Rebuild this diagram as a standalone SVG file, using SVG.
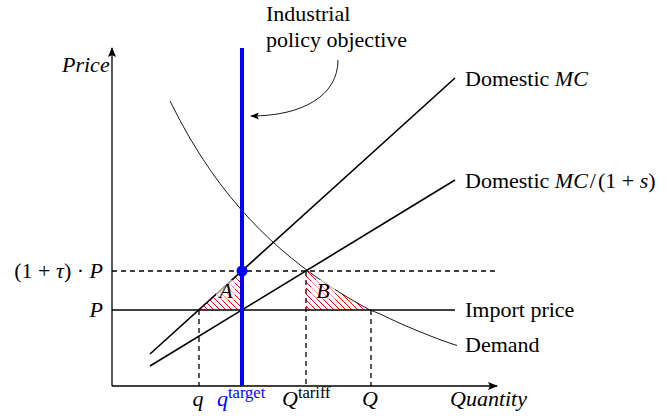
<svg xmlns="http://www.w3.org/2000/svg" width="668" height="419" viewBox="0 0 668 419">
<style>
text{font-family:"Liberation Serif","Times New Roman",serif;font-size:22px;fill:#000}
.it{font-style:italic}
.sup{font-size:16.5px}
.ax{stroke:#000;stroke-width:1.3;fill:none}
.ln{stroke:#000;stroke-width:1.6;fill:none}
.dash{stroke:#000;stroke-width:1.3;stroke-dasharray:5,4;fill:none}
.thin{stroke:#000;stroke-width:0.9;fill:none}
.fade{fill:#fff;opacity:0.6}
</style>
<defs>
<marker id="arr" viewBox="0 0 10 8" refX="9" refY="4" markerWidth="10" markerHeight="8" markerUnits="userSpaceOnUse" orient="auto">
<path d="M0,0 L10,4 L0,8 L2,4 Z" fill="#000"/>
</marker>
<marker id="arrs" viewBox="0 0 10 8" refX="9" refY="4" markerWidth="9" markerHeight="7" markerUnits="userSpaceOnUse" orient="auto">
<path d="M0,0 L10,4 L0,8 L2,4 Z" fill="#000"/>
</marker>
<pattern id="hatch" patternUnits="userSpaceOnUse" width="6" height="6">
<path d="M-1,-1 L7,7 M-1,5 L1,7 M5,-1 L7,1" stroke="#ff0000" stroke-width="1"/>
</pattern>
</defs>

<g id="areas">
<polygon id="areaA" points="199,310 242,310 242,271" fill="url(#hatch)"/>
<polygon id="areaB" points="306,270 310,272.5 320,279.6 330,286.4 340,292.7 350,298.8 360,304.5 370,310 306,310" fill="url(#hatch)"/>
</g>

<g id="connectors">
<line id="price-axis" class="ax" x1="112" y1="386" x2="112" y2="48" marker-end="url(#arr)"/>
<line id="quantity-axis" class="ax" x1="112" y1="386" x2="497" y2="386" marker-end="url(#arr)"/>
<line id="tariff-price" class="dash" x1="112" y1="271" x2="497" y2="271"/>
<line id="import-price" class="ax" x1="112" y1="310" x2="455" y2="310"/>
<line id="v-q" class="dash" x1="199" y1="310" x2="199" y2="386"/>
<line id="v-Qtariff" class="dash" x1="306" y1="271" x2="306" y2="386"/>
<line id="v-Q" class="dash" x1="371" y1="310" x2="371" y2="386"/>
<line id="domestic-mc" class="ln" x1="150" y1="354" x2="455" y2="78"/>
<line id="domestic-mc-s" class="ln" x1="150" y1="366" x2="455" y2="180"/>
<polyline id="demand" class="thin" points="170,101 180,120.5 190,138.4 200,154.7 210,169.7 220,183.6 230,196.4 240,208.3 250,219.4 260,229.7 270,239.4 280,248.4 290,256.9 300,264.9 310,272.5 320,279.6 330,286.4 340,292.7 350,298.8 360,304.5 370,310 380,313.9 390,318.7 400,323.3 410,327.6 420,331.8 430,335.8 440,339.6 450,343.2 457,345.5"/>
<path id="annotation-arrow" class="thin" d="M338,60 C338,96 302,116 251,116" marker-end="url(#arrs)"/>
</g>

<g id="labelA">
<rect class="fade" x="216" y="280" width="19" height="20"/>
<text class="it" x="226" y="298" text-anchor="middle">A</text>
</g>
<g id="labelB">
<rect class="fade" x="311" y="280" width="24" height="19"/>
<text class="it" x="323" y="298" text-anchor="middle">B</text>
</g>

<g id="target-line">
<line x1="242" y1="48" x2="242" y2="386" stroke="#0000ff" stroke-width="4"/>
<circle cx="242" cy="271" r="5.5" fill="#0000ff"/>
</g>

<g id="annotation">
<text x="266" y="21">Industrial</text>
<text x="266" y="47">policy objective</text>
</g>

<g id="axis-labels">
<text class="it" x="62" y="72">Price</text>
<text x="103" y="278" text-anchor="end">(1 + <tspan class="it">τ</tspan>) · <tspan class="it">P</tspan></text>
<text class="it" x="103" y="317" text-anchor="end">P</text>
<text class="it" x="198" y="406" text-anchor="middle">q</text>
<text x="217" y="406" fill="#0000ff"><tspan class="it" fill="#0000ff">q</tspan><tspan class="sup" dy="-8" fill="#0000ff">target</tspan></text>
<text x="282" y="406"><tspan class="it">Q</tspan><tspan class="sup" dy="-8">tariff</tspan></text>
<text class="it" x="370" y="406" text-anchor="middle">Q</text>
<text class="it" x="450" y="406">Quantity</text>
</g>

<g id="curve-labels">
<text x="465" y="86">Domestic <tspan class="it">MC</tspan></text>
<text x="465" y="188">Domestic <tspan class="it">MC</tspan><tspan dx="2">/</tspan><tspan dx="2">(1 + </tspan><tspan class="it">s</tspan>)</text>
<text x="465" y="317">Import price</text>
<text x="465" y="352">Demand</text>
</g>
</svg>
